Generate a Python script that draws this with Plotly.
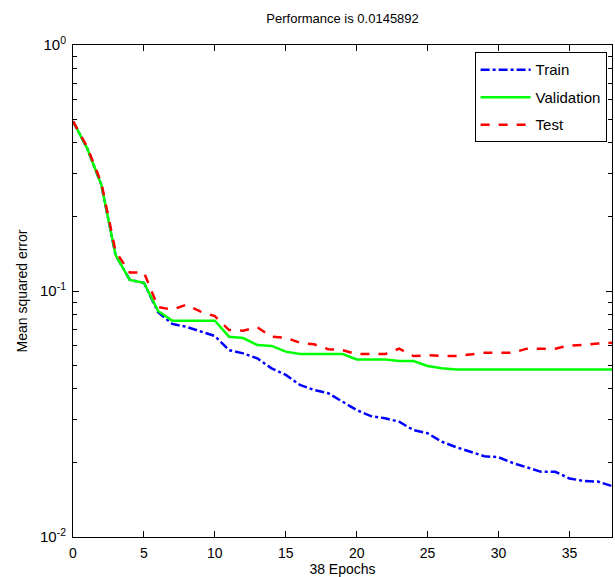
import plotly.graph_objects as go

epochs = list(range(0, 39))

train = [0.49, 0.38, 0.27, 0.14, 0.111, 0.108, 0.082, 0.0735, 0.0715, 0.0684, 0.0656,
         0.0575, 0.0558, 0.0532, 0.0485, 0.0456, 0.0415, 0.0396, 0.0384, 0.0355, 0.0328,
         0.0310, 0.0304, 0.0294, 0.0272, 0.0264, 0.0244, 0.0232, 0.0222, 0.0213, 0.0211,
         0.0200, 0.0192, 0.0184, 0.0184, 0.0173, 0.0169, 0.0168, 0.0161]

validation = [0.49, 0.38, 0.27, 0.14, 0.111, 0.108, 0.083, 0.0757, 0.0757, 0.0757, 0.0757,
              0.0652, 0.0644, 0.0603, 0.0598, 0.0567, 0.0554, 0.0554, 0.0554, 0.0554, 0.0527,
              0.0527, 0.0527, 0.0519, 0.0519, 0.0496, 0.0485, 0.0480, 0.0480, 0.0480, 0.0480,
              0.0480, 0.0480, 0.0480, 0.0480, 0.0480, 0.0480, 0.0480, 0.0480]

test = [0.49, 0.385, 0.275, 0.145, 0.119, 0.119, 0.086, 0.084, 0.088, 0.0824, 0.079,
        0.0694, 0.069, 0.0712, 0.0652, 0.0646, 0.0616, 0.0607, 0.058, 0.0575, 0.0554,
        0.0554, 0.0554, 0.0583, 0.0544, 0.0548, 0.0544, 0.0544, 0.0554, 0.0561, 0.0561,
        0.0561, 0.0583, 0.0583, 0.0583, 0.0600, 0.0603, 0.0612, 0.0616]

title_text = "Performance is 0.0145892"
xlabel = "38 Epochs"
ylabel = "Mean squared error"
ytick_vals = [0.01, 0.1, 1]
ytick_text = ["10<sup>-2</sup>", "10<sup>-1</sup>", "10<sup>0</sup>"]
minor_vals = [k * 10.0 ** e for e in (-2, -1) for k in range(2, 10)]

FONT = "Liberation Sans, Arial, sans-serif"

fig = go.Figure()
fig.add_trace(go.Scatter(x=epochs, y=train, name="Train", mode="lines", legendgroup="a",
                         line=dict(color="#0000ff", width=2.5, dash="dashdot")))
fig.add_trace(go.Scatter(x=epochs, y=validation, name="Validation", mode="lines", legendgroup="b",
                         line=dict(color="#00ff00", width=2.5)))
fig.add_trace(go.Scatter(x=epochs, y=test, name="Test", mode="lines", legendgroup="c",
                         line=dict(color="#ff0000", width=2.5, dash="dash")))

fig.update_layout(
    width=615, height=577,
    margin=dict(l=73, r=3, t=45, b=40),
    paper_bgcolor="white", plot_bgcolor="white",
    font=dict(family=FONT, size=13, color="black"),
    title=dict(text=title_text, x=0.557, xanchor="center", y=0.968, yanchor="middle",
               font=dict(family=FONT, size=13, color="black")),
    showlegend=True,
    legend=dict(x=0.99, xanchor="right", y=0.985, yanchor="top",
                bgcolor="white", bordercolor="black", borderwidth=1,
                font=dict(family=FONT, size=15), itemwidth=50, tracegroupgap=5),
)

fig.update_xaxes(range=[0, 38], tickmode="linear", tick0=0, dtick=5,
                 ticks="inside", ticklen=6, tickcolor="black",
                 showline=True, linecolor="black", linewidth=1, mirror="allticks",
                 showgrid=False, zeroline=False, tickfont=dict(size=14),
                 ticklabelstandoff=3,
                 title=dict(text=xlabel, standoff=0, font=dict(size=14)))

fig.update_yaxes(type="log", range=[-2, 0], tickmode="array",
                 tickvals=ytick_vals, ticktext=ytick_text,
                 ticks="inside", ticklen=6, tickcolor="black",
                 showline=True, linecolor="black", linewidth=1, mirror="allticks",
                 showgrid=False, zeroline=False, tickfont=dict(size=15),
                 ticklabelstandoff=3,
                 minor=dict(tickmode="array", tickvals=minor_vals, ticks="inside",
                            ticklen=4, tickcolor="black", showgrid=False),
                 title=dict(text=ylabel, standoff=9, font=dict(size=14)))

fig.write_html("out.html", config={"displayModeBar": False},
               post_script="document.body.style.margin='0';")
